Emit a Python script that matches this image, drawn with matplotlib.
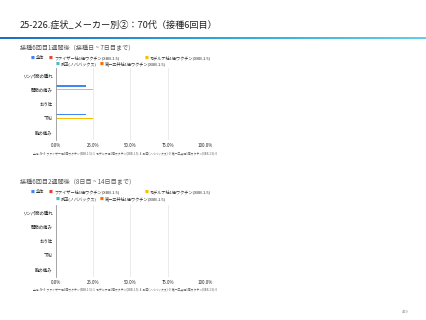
import numpy as np
import matplotlib
matplotlib.use("Agg")
import matplotlib.pyplot as plt

plt.rcParams['font.family'] = ['Noto Sans CJK JP', 'DejaVu Sans']

# data
symptoms = ['リンパ節の腫れ', '関節の痛み', 'おう吐', '下痢', '胸の痛み']
series = ['全体', 'ファイザー社1価ワクチン(XBB.1.5)', 'モデルナ社1価ワクチン(XBB.1.5)',
          '武田(ノババックス)', '第一三共社1価ワクチン(XBB.1.5)']
colors = ['#4285F4', '#EA4335', '#FBBC04', '#46BDC6', '#FF6D01']
week1 = [
    [0, 20, 0, 20, 0],   # 全体
    [0, 0, 0, 0, 0],     # ファイザー
    [0, 25, 0, 25, 0],   # モデルナ
    [0, 0, 0, 0, 0],     # 武田
    [0, 0, 0, 0, 0],     # 第一三共
]
week2 = [[0, 0, 0, 0, 0] for _ in series]
xticks = [0, 25, 50, 75, 100]
note = ('全体: N=5  ファイザー社1価ワクチン(XBB.1.5): 1  モデルナ社1価ワクチン(XBB.1.5): 4  '
        '武田(ノババックス): 0  第一三共社1価ワクチン(XBB.1.5): 0')

W, H = 427, 320
fig = plt.figure(figsize=(W / 100, H / 100), dpi=100)


def fx(x):
    return x / W


def fy(y):
    return 1 - y / H


# title and gradient rule
fig.text(fx(20), fy(25), '25-226.症状_メーカー別②：70代（接種6回目）',
         fontsize=6.6, color='#222222', va='center', ha='left')
bar_ax = fig.add_axes([0, fy(39), 1, 2.5 / H])
grad = np.linspace(0, 1, 256).reshape(1, -1)
cmap = matplotlib.colors.LinearSegmentedColormap.from_list('g', ['#1b6fc0', '#2aa8d8', '#5fd0e8'])
bar_ax.imshow(grad, aspect='auto', cmap=cmap)
bar_ax.axis('off')


def draw_legend(y1, y2):
    items1 = [(32.7, 0), (50.7, 1), (146.7, 2)]
    items2 = [(58, 3), (102, 4)]
    for yy, items in ((y1, items1), (y2, items2)):
        for x, i in items:
            fig.text(fx(x), fy(yy), '■', color=colors[i], fontsize=2.8,
                     ha='center', va='center')
            fig.text(fx(x + 3.2), fy(yy), series[i], color='#333333',
                     fontsize=3.0, ha='left', va='center')


def draw_chart(top, bottom, sub_y, leg_y, note_y, sub, data):
    fig.text(fx(20), fy(sub_y), sub, fontsize=4.4, color='#555555',
             ha='left', va='center')
    draw_legend(leg_y, leg_y + 6.5)
    ax = fig.add_axes([fx(56), fy(bottom), fx(205) - fx(56), (bottom - top) / H])
    y = np.arange(len(symptoms))
    h = 0.13
    for i, vals in enumerate(data):
        ax.barh(y + (i - 2) * h, vals, height=0.115, color=colors[i],
                linewidth=0, zorder=3)
    ax.set_xlim(0, 100)
    ax.set_ylim(len(symptoms) - 0.5, -0.5)
    ax.set_yticks(y)
    ax.set_yticklabels(symptoms, fontsize=3.2, color='#222222')
    ax.set_xticks(xticks)
    ax.set_xticklabels([f'{t:.1f}%' for t in xticks], fontsize=3.2, color='#222222')
    ax.tick_params(length=0, pad=2.5)
    ax.grid(axis='x', color='#e3e3e3', lw=0.5, zorder=0)
    for s in ['top', 'right', 'bottom']:
        ax.spines[s].set_visible(False)
    ax.spines['left'].set_color('#999999')
    ax.spines['left'].set_linewidth(0.6)
    ax.spines['left'].set_zorder(4)
    fig.text(fx(33), fy(note_y), note, fontsize=2.05, color='#555555',
             ha='left', va='center')


draw_chart(68, 140, 48, 57.7, 153.5, '接種6回目1週間後（接種日 ~ 7日目まで）', week1)
draw_chart(205, 277, 182, 192, 289.5, '接種6回目2週間後（8日目 ~ 14日目まで）', week2)

fig.text(fx(405), fy(312), '419', fontsize=3, color='#888888', ha='center', va='center')

fig.savefig('out.png', dpi=100)
